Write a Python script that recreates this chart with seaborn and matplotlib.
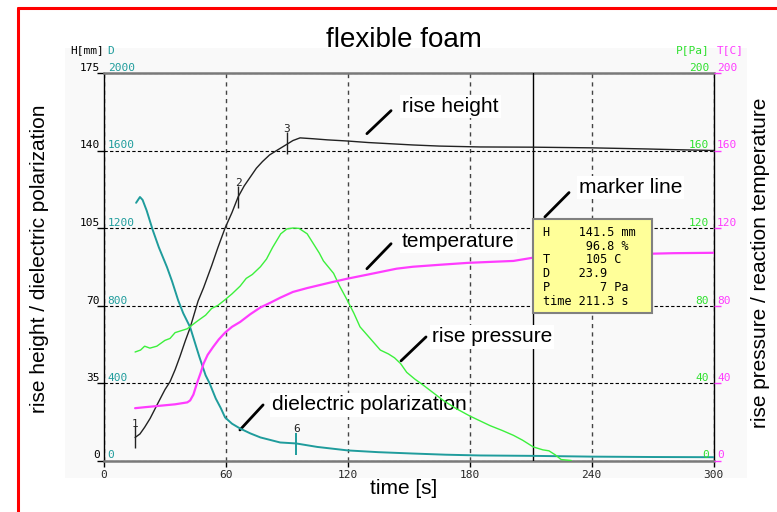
import numpy as np
import matplotlib
matplotlib.use("Agg")
import matplotlib.pyplot as plt
from matplotlib.patches import Rectangle
from matplotlib.lines import Line2D
import seaborn as sns

# rise height H [mm]
h_time = [15.3, 17.7, 20, 22.7, 26.6, 30, 32.5, 35, 37.4, 40, 42.4, 46.3, 49, 53, 56,
          59.6, 63, 66, 69, 72, 75, 78, 81.5, 85, 90, 93, 96.5, 103, 110, 119.6, 130,
          140, 152, 165, 185, 211.3, 240, 267, 280, 300]
h_vals = [10.4, 12, 15, 19, 26, 32, 35.6, 41, 47, 54, 60, 72, 78, 88, 96,
          105, 112, 119, 124, 128, 132, 135, 138, 140, 142.8, 144.5, 145.7, 145.3, 144.8, 144.3, 143.6,
          143.1, 142.5, 142, 141.6, 141.5, 141.2, 140.7, 140.4, 140]

# dielectric polarization D
d_time = [15.8, 17.7, 19, 21, 24, 27, 31, 33.5, 36.5, 39, 42.4, 45, 47, 50, 52, 55, 57.5,
          59.6, 63, 67, 72, 77, 86.7, 94.6, 105, 120, 135, 152, 168, 185, 211.3, 240, 270, 300]
d_vals = [1330, 1360, 1345, 1290, 1189, 1100, 998, 925, 827, 760, 688, 600, 533, 440, 398, 320, 270,
          222, 190, 165, 140, 119, 93, 88, 70, 52, 43, 36, 30, 26, 23.9, 20, 18, 17]

# rise pressure P [Pa]
p_time = [15.3, 18, 20, 22.6, 26, 30, 32.5, 35, 38, 41, 43.5, 46, 50, 53, 56, 59.6, 63, 67, 70,
          73, 77, 80, 83, 87, 90, 93, 96, 100, 103, 106, 108, 113, 116, 119.6, 123, 126, 131,
          136, 140, 143, 146, 149, 153, 157, 162, 167, 173, 180, 185, 190, 196, 201.5, 206,
          211.3, 216, 219, 222, 225, 230]
p_vals = [56, 57, 59, 58, 59, 62, 63, 66, 67, 68, 70, 72, 75, 78.5, 80, 83, 86, 90, 94,
          96, 100, 104, 110, 117, 119.5, 120, 119.8, 117, 112, 107, 103, 96.6, 90, 83, 76, 69, 63,
          57, 55, 53, 50, 45.5, 42, 39, 35, 31, 27, 23, 20.5, 18, 15.5, 13, 10.5,
          7, 5.5, 5, 3, 0.5, 0]

# reaction temperature T [C]
t_time = [15.3, 20, 25, 30, 35, 41, 42.4, 44, 45.8, 47.5, 49, 51, 53.7, 56.5, 59.6, 63, 67,
          72, 77, 82, 86.7, 93, 100, 106, 112, 119.6, 130, 144, 152, 165, 179, 190, 201.5,
          211.3, 225, 240, 260, 280, 300]
t_vals = [27, 27.5, 28, 28.5, 29, 30, 31, 34, 40, 45, 50, 54.5, 58.6, 62.5, 66, 69, 71.5,
          75.5, 79, 81.5, 84, 87, 89, 90.5, 92, 93.8, 96, 99, 100, 101, 102, 102.5, 103,
          104.7, 105.5, 106, 106.5, 107, 107.2]

# curve markers
h_mark_time = [15.3, 66, 90]
h_mark_vals = [10.4, 119, 143.3]
h_mark_labels = ["1", "2", "3"]
d_mark_time = [94.6]
d_mark_vals = [85]
d_mark_labels = ["6"]

marker_time = 211.3
readout = ["H    141.5 mm",
           "      96.8 %",
           "T     105 C",
           "D    23.9",
           "P       7 Pa",
           "time 211.3 s"]

x_ticks = [0, 60, 120, 180, 240, 300]
h_ticks = [0, 35, 70, 105, 140, 175]
d_ticks = [0, 400, 800, 1200, 1600, 2000]
p_ticks = [0, 40, 80, 120, 160, 200]
t_ticks = [0, 40, 80, 120, 160, 200]

BLACK = "#222222"
TEAL = "#1f9c9c"
GREEN = "#3cf03c"
GREEN_TXT = "#2ee02e"
MAGENTA = "#ff3cff"
MONO = "DejaVu Sans Mono"
SANS = "Liberation Sans"

sns.set_theme(style="white")
plt.rcParams["font.family"] = [SANS, "DejaVu Sans"]

fig = plt.figure(figsize=(7.77, 5.12), dpi=100)
fig.patch.set_facecolor("white")
fig.patches.append(Rectangle((65 / 777, 1 - 478 / 512), 682 / 777, 430 / 512,
                             transform=fig.transFigure, facecolor="#f9f9f9",
                             edgecolor="none", zorder=-5))
fig.add_artist(Line2D([18 / 777, 18 / 777], [0, 1 - 8 / 512], color="red", lw=2.2,
                      transform=fig.transFigure))
fig.add_artist(Line2D([18 / 777, 1], [1 - 8 / 512, 1 - 8 / 512], color="red", lw=2.2,
                      transform=fig.transFigure))

ax = fig.add_axes([104 / 777, 1 - 460.5 / 512, 609.5 / 777, 387.5 / 512])
ax.set_facecolor("none")
ax.set_xlim(0, 300)
ax.set_ylim(0, 175)
axd = ax.twinx()
axd.set_ylim(0, 2000)
axp = ax.twinx()
axp.set_ylim(0, 200)
for a in (axd, axp):
    a.patch.set_visible(False)
    for s in a.spines.values():
        s.set_visible(False)

# frame
ax.spines["top"].set_color("#7a7a7a")
ax.spines["top"].set_linewidth(1.8)
ax.spines["bottom"].set_color("#7a7a7a")
ax.spines["bottom"].set_linewidth(1.8)
ax.spines["left"].set_color("black")
ax.spines["left"].set_linewidth(1)
ax.spines["right"].set_color("black")
ax.spines["right"].set_linewidth(1)

ax.set_xticks(x_ticks)
ax.set_xticklabels([str(v) for v in x_ticks], fontsize=8, family=MONO)
ax.set_yticks(h_ticks)
ax.set_yticklabels([])
ax.tick_params(axis="x", direction="out", length=4, width=1, color="black", pad=3, bottom=True)
ax.tick_params(axis="y", direction="out", length=5, width=1, color="black", left=True)
axd.set_yticks([])
axp.set_yticks(t_ticks)
axp.set_yticklabels([])
axp.tick_params(axis="y", direction="out", length=5, width=1, color=MAGENTA, right=True)

ax.set_axisbelow(True)
ax.grid(axis="y", color="black", linestyle=(0, (3, 2)), linewidth=0.8)
ax.grid(axis="x", color="#444444", linestyle=(0, (3, 3)), linewidth=1)
ax.axvline(marker_time, color="black", lw=1, zorder=3)

# annotations (under the curves, over the grid)
notes = [("rise height", (129.4, 147.6), (141.3, 158), (146.7, 159.9)),
         ("temperature", (129.4, 86.6), (141.3, 97.9), (146.7, 98.8)),
         ("rise pressure", (146.2, 45), (158.5, 55.8), (161.4, 55.8)),
         ("dielectric polarization", (66.9, 13.8), (78.3, 25.1), (82.7, 25.1)),
         ("marker line", (217, 110), (228.9, 121), (233.8, 123.2))]
for label, p0, p1, pt in notes:
    ax.text(pt[0], pt[1], label, ha="left", va="center", fontsize=15,
            color="black", bbox=dict(facecolor="white", edgecolor="none", pad=1.5), zorder=3.2)
    ax.annotate("", xy=p0, xytext=p1, zorder=3.4,
                arrowprops=dict(arrowstyle="-", lw=2, color="black", shrinkA=0, shrinkB=0))

# curves
sns.lineplot(x=h_time, y=h_vals, ax=ax, color=BLACK, lw=1, zorder=4)
sns.lineplot(x=d_time, y=d_vals, ax=axd, color=TEAL, lw=1.4)
sns.lineplot(x=p_time, y=p_vals, ax=axp, color=GREEN, lw=1)
sns.lineplot(x=t_time, y=t_vals, ax=axp, color=MAGENTA, lw=1.6)

# curve markers
ax.plot(h_mark_time, h_mark_vals, linestyle="none", marker="|", ms=16, mew=1, color=BLACK, zorder=5)
for tx, hv, lab in zip(h_mark_time, h_mark_vals, h_mark_labels):
    ax.text(tx, hv + 4, lab, ha="center", va="bottom", fontsize=8, family=MONO, color=BLACK)
axd.plot(d_mark_time, d_mark_vals, linestyle="none", marker="|", ms=16, mew=1.4, color=TEAL)
for tx, dv, lab in zip(d_mark_time, d_mark_vals, d_mark_labels):
    axd.text(tx, dv + 50, lab, ha="center", va="bottom", fontsize=8, family=MONO, color=BLACK)

# tick labels on both sides
for v in h_ticks:
    ax.text(-0.007, v, str(v), transform=ax.get_yaxis_transform(), ha="right", va="bottom",
            fontsize=8, family=MONO, color="black")
for v in d_ticks:
    axd.text(0.006, v, str(v), transform=axd.get_yaxis_transform(), ha="left", va="bottom",
             fontsize=8, family=MONO, color=TEAL)
for v in p_ticks:
    axp.text(0.993, v, str(v), transform=axp.get_yaxis_transform(), ha="right", va="bottom",
             fontsize=8, family=MONO, color=GREEN_TXT)
for v in t_ticks:
    axp.text(1.006, v, str(v), transform=axp.get_yaxis_transform(), ha="left", va="bottom",
             fontsize=8, family=MONO, color=MAGENTA)

ax.text(0, 1.045, "H[mm]", transform=ax.transAxes, ha="right", va="bottom", fontsize=8, family=MONO, color="black")
ax.text(0.006, 1.045, "D", transform=ax.transAxes, ha="left", va="bottom", fontsize=8, family=MONO, color=TEAL)
ax.text(0.993, 1.045, "P[Pa]", transform=ax.transAxes, ha="right", va="bottom", fontsize=8, family=MONO, color=GREEN_TXT)
ax.text(1.006, 1.045, "T[C]", transform=ax.transAxes, ha="left", va="bottom", fontsize=8, family=MONO, color=MAGENTA)

# readout box
axp.add_patch(Rectangle((marker_time, 66.7), 58.4, 42.5, transform=ax.transData,
                        facecolor="#ffff99", edgecolor="#808080", lw=1.5, zorder=7))
axp.text(216.1, 106, "\n".join(readout), transform=ax.transData, ha="left", va="top",
         fontsize=8.6, family=MONO, linespacing=1.08, color="black", zorder=8)

fig.text(404 / 777, 1 - 40 / 512, "flexible foam", ha="center", va="center", fontsize=20, color="black")
fig.text(404 / 777, 1 - 488 / 512, "time [s]", ha="center", va="center", fontsize=15, color="black")
fig.text(40 / 777, 1 - 259 / 512, "rise height / dielectric polarization", ha="center", va="center",
         rotation=90, fontsize=15, color="black")
fig.text(760 / 777, 1 - 263 / 512, "rise pressure / reaction temperature", ha="center", va="center",
         rotation=90, fontsize=15, color="black")

fig.savefig("out.png", dpi=100)
